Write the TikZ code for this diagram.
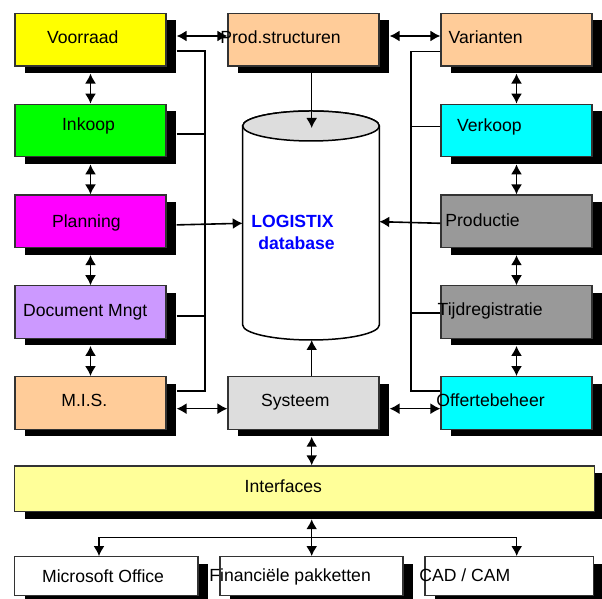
\documentclass[tikz,border=0pt]{standalone}
\usepackage{fontspec}
\setmainfont{Liberation Sans}
\usetikzlibrary{shadows, arrows.meta, positioning, calc}

\definecolor{geel}{HTML}{FFFF00}
\definecolor{groen}{HTML}{00FF00}
\definecolor{paars}{HTML}{FF00FF}
\definecolor{lila}{HTML}{CC99FF}
\definecolor{zalm}{HTML}{FFCC99}
\definecolor{cyaan}{HTML}{00FFFF}
\definecolor{grijs}{HTML}{999999}
\definecolor{lichtgrijs}{HTML}{DDDDDD}
\definecolor{lichtgeel}{HTML}{FFFF99}
\definecolor{dbblauw}{HTML}{0000FF}

\begin{document}
\begin{tikzpicture}[x=0.5pt, y=0.5pt, on grid, node distance=45.4pt,
    >={Latex[length=5pt,width=5.5pt]},
    blok/.style={draw=black!80, line width=0.6pt, minimum width=75.5pt, minimum height=26.25pt, inner sep=0pt,
      drop shadow={shadow xshift=5pt, shadow yshift=-3.5pt, fill=black, opacity=1}},
    tekst/.style={anchor=base west, inner sep=0pt, font=\fontsize{8.8}{10.5}\selectfont},
    lijn/.style={line width=0.8pt}]
  \useasboundingbox (0,0) rectangle (602,599);

  % linker kolom
  \node[blok, fill=geel]  (voorraad)            at (90.5,559.3) {};
  \node[blok, fill=groen] (inkoop)   [below of=voorraad] {};
  \node[blok, fill=paars] (planning) [below of=inkoop]   {};
  \node[blok, fill=lila]  (doc)      [below of=planning] {};
  \node[blok, fill=zalm]  (mis)      [below of=doc]      {};
  % midden
  \node[blok, fill=zalm]       (prod)     [right=106.5pt of voorraad] {};
  \node[blok, fill=lichtgrijs] (systeem)  [right=106.5pt of mis]      {};
  % rechter kolom
  \node[blok, fill=zalm]  (varianten) [right=106.5pt of prod]   {};
  \node[blok, fill=cyaan] (verkoop)   [below of=varianten]      {};
  \node[blok, fill=grijs] (productie) [below of=verkoop]        {};
  \node[blok, fill=grijs] (tijd)      [below of=productie]      {};
  \node[blok, fill=cyaan] (offerte)   [right=106.5pt of systeem] {};
  % onderkant
  \node[blok, fill=lichtgeel, minimum width=289.8pt, minimum height=22.85pt] (interfaces) at (304.5,110.2) {};
  \node[blok, fill=white, minimum width=91.65pt, minimum height=19.5pt] (msoffice) at (106.3,22.8) {};
  \node[blok, fill=white, minimum width=91.5pt,  minimum height=19.5pt] (fin)      at (311.5,22.8) {};
  \node[blok, fill=white, minimum width=84.15pt, minimum height=19.5pt] (cad)      at (509.2,22.8) {};

  % database
  \filldraw[line width=0.75pt, fill=white] (242.7,473) -- (242.7,274)
    arc[start angle=180, end angle=360, x radius=34.15pt, y radius=7.5pt] -- (379.3,473)
    arc[start angle=0, end angle=180, x radius=34.15pt, y radius=7.5pt] -- cycle;
  \filldraw[line width=0.75pt, fill=lichtgrijs] (311,473) ellipse[x radius=34.15pt, y radius=7.5pt];
  \coordinate (db_top) at (311.7,471);
  \coordinate (db_bot) at (311.7,259);
  \coordinate (db_w)   at (242.7,375.7);
  \coordinate (db_e)   at (379.3,377.3);

  % verbindingen
  \draw[lijn,<->] ($(voorraad.east)+(10,3.7)$) -- ($(prod.west)+(0,3.7)$);
  \draw[lijn,<->] ($(prod.east)+(10,3.7)$) -- ($(varianten.west)+(0,3.7)$);
  \draw[lijn,<->] ($(mis.east)+(10,-5.8)$) -- ($(systeem.west)+(0,-5.8)$);
  \draw[lijn,<->] ($(systeem.east)+(10,-5.8)$) -- ($(offerte.west)+(0,-5.8)$);
  \foreach \a/\b in {voorraad/inkoop, inkoop/planning, planning/doc, doc/mis,
                     varianten/verkoop, verkoop/productie, productie/tijd, tijd/offerte}
    \draw[lijn,<->] ($(\a.south)+(0,-7)$) -- (\b.north);
  \draw[lijn] ($(voorraad.east)+(10,-11.3)$) -- ++(28.3,0) |- ($(mis.east)+(10,11.8)$);
  \draw[lijn] ($(inkoop.east)+(10,-3.6)$) -- ++(28.3,0);
  \draw[lijn] ($(doc.east)+(10,-4.2)$) -- ++(28.3,0);
  \draw[lijn,->] ($(planning.east)+(10,-3.6)$) -- (db_w);
  \draw[lijn] ($(varianten.west)+(0,-12)$) -- ++(-29.5,0) |- ($(offerte.west)+(0,11.8)$);
  \draw[lijn] ($(verkoop.west)+(0,4)$) -- ++(-29.5,0);
  \draw[lijn] ($(tijd.west)+(0,-0.7)$) -- ++(-29.5,0);
  \draw[lijn,->] ($(productie.west)+(0,-2)$) -- (db_e);
  \draw[lijn,->] (prod.south -| db_top) -- (db_top);
  \draw[lijn,->] (systeem.north -| db_bot) -- (db_bot);
  \draw[lijn,<->] ($(systeem.south -| db_bot)+(0,-7)$) -- (interfaces.north -| db_bot);
  \draw[lijn,<->] ($(interfaces.south -| db_bot)+(0,-7)$) -- (fin.north -| db_bot);
  \draw[lijn,->] ($(fin.north -| db_bot)+(0,18.4)$) -| ($(msoffice.north)+(-7.3,0)$);
  \draw[lijn,->] ($(fin.north -| db_bot)+(0,18.4)$) -| ($(cad.north)+(7.5,0)$);

  % teksten
  \node[tekst] (t_voorraad)  at (46.7,555.4)  {Voorraad};
  \node[tekst] (t_inkoop)    at (61.7,468)    {Inkoop};
  \node[tekst] (t_planning)  at (51.7,371.7)  {Planning};
  \node[tekst] (t_doc)       at (22.7,282.7)  {Document Mngt};
  \node[tekst] (t_mis)       at (61,192.7)    {M.I.S.};
  \node[tekst] (t_prod)      at (220,555)     {Prod.structuren};
  \node[tekst] (t_varianten) at (448.3,555.4) {Varianten};
  \node[tekst] (t_verkoop)   at (456.7,467.7) {Verkoop};
  \node[tekst] (t_productie) at (445,372)     {Productie};
  \node[tekst] (t_tijd)      at (437.3,283.7) {Tijdregistratie};
  \node[tekst] (t_offerte)   at (436,192.7)   {Offertebeheer};
  \node[tekst] (t_systeem)   at (260.7,192.7) {Systeem};
  \node[tekst] (t_interfaces) at (244.3,106)  {Interfaces};
  \node[tekst] (t_msoffice)  at (41.7,16.7)   {Microsoft Office};
  \node[tekst] (t_fin)       at (209,17.7)    {Financiële pakketten};
  \node[tekst] (t_cad)       at (419,17.7)    {CAD / CAM};
  \node[tekst, text=dbblauw, font=\fontsize{8.8}{10.5}\selectfont\bfseries] (t_logistix) at (251,371.7) {LOGISTIX};
  \node[tekst, text=dbblauw, font=\fontsize{8.8}{10.5}\selectfont\bfseries] (t_database) at (258,349.7) {database};
\end{tikzpicture}
\end{document}
